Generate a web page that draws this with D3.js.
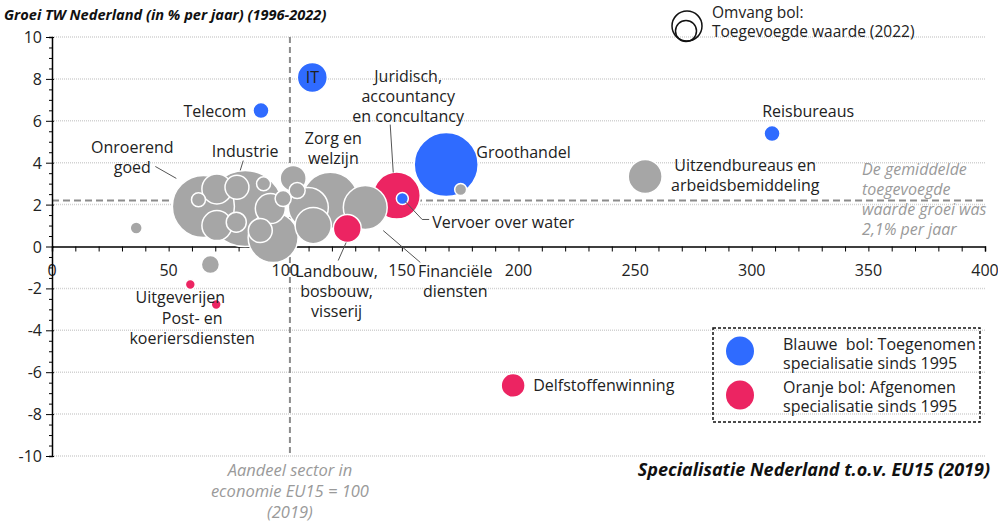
<!DOCTYPE html>
<html>
<head>
<meta charset="utf-8">
<script src="https://cdn.jsdelivr.net/npm/d3@7"></script>
<style>
  body { margin: 0; background: #fff; }
  text { font-family: "Open Sans", sans-serif; }
</style>
</head>
<body>
<div id="graph1"></div>
<script>
// sectors, specialisatie NL t.o.v. EU15 (2019), groei TW (% per jaar), toegevoegde waarde (2022)
const sectors = ["Industrie", "Groothandel", "Onroerend goed", "Zorg en welzijn", "Bouw",
  "Juridisch, accountancy en concultancy", "Financiële diensten", "Openbaar bestuur", "Onderwijs",
  "Uitzendbureaus en arbeidsbemiddeling", "IT", "Detailhandel", "Energie", "Vervoer over land",
  "Landbouw, bosbouw, visserij", "Horeca", "Delfstoffenwinning", "Autohandel", "Opslag",
  "Cultuur en recreatie", "Waterbedrijven", "Telecom", "Reisbureaus", "Reclame", "Research",
  "Architecten", "Overige diensten", "Vervoer over water", "Verhuur", "Luchtvaart",
  "Uitgeverijen", "Post- en koeriersdiensten"];
const specialisatie = [82.8, 169, 64.9, 119.3, 94.8, 147.8, 134.3, 109.9, 112, 254.3, 111.6,
  70.7, 70.7, 93.6, 126.6, 103.4, 197.7, 79.3, 89.3, 79, 67.9, 89.6, 308.7, 99.1, 105.1,
  62.8, 90.7, 150.2, 175.2, 36.1, 59.3, 70.4];
const groei = [1.81, 3.91, 1.91, 2.2, 0.43, 2.43, 1.86, 1.86, 1.0, 3.34, 8.07,
  2.75, 1.0, 1.81, 0.86, 3.25, -6.63, 2.83, 0.76, 1.16, -0.86, 6.49, 5.39, 2.29, 2.67,
  2.23, 2.99, 2.29, 2.72, 0.88, -1.81, -2.77];
const toegevoegdeWaarde = [141, 100, 94, 77, 61, 54, 47, 39, 32, 28, 22,
  22, 22, 22, 19, 16.5, 14, 14, 14, 9.8, 8, 6.3, 6.3, 6.3, 6.3,
  4.8, 4.8, 3.5, 3.5, 3.5, 2.4, 2.4];
// "blauw" = toegenomen specialisatie, "oranje" = afgenomen, "grijs" = overig
const specialisatieTrend = ["grijs", "blauw", "grijs", "grijs", "grijs", "oranje", "grijs", "grijs", "grijs",
  "grijs", "blauw", "grijs", "grijs", "grijs", "oranje", "grijs", "oranje", "grijs", "grijs",
  "grijs", "grijs", "blauw", "blauw", "grijs", "grijs", "grijs", "grijs", "blauw", "grijs",
  "grijs", "oranje", "oranje"];

const xTickLabels = [0, 50, 100, 150, 200, 250, 300, 350, 400];
const yTickLabels = [10, 8, 6, 4, 2, 0, -2, -4, -6, -8, -10];
const gemiddeldeGroei = 2.2;
const eu15Niveau = 102;

let graph_1_width = 998, graph_1_height = 525;

let svg = d3.select("#graph1")
    .append("svg")
    .attr("width", graph_1_width)
    .attr("height", graph_1_height);

let x = d3.scaleLinear().domain([0, 400]).range([52, 985]);
let y = d3.scaleLinear().domain([-10, 10]).range([456, 37]);
let r = d3.scaleSqrt().domain([0, 100]).range([0, 32]);

let color = d3.scaleOrdinal()
    .domain(["blauw", "oranje", "grijs"])
    .range(["#2f6bff", "#ec2462", "#a6a6a6"]);

// gridlines
svg.append("g")
    .selectAll("line")
    .data(yTickLabels.filter(d => d !== 0))
    .enter()
    .append("line")
    .attr("x1", x(0)).attr("x2", x(400))
    .attr("y1", d => y(d)).attr("y2", d => y(d))
    .attr("stroke", "#d2d2d2")
    .attr("stroke-width", 1.5)
    .attr("stroke-dasharray", "1,1");

// reference lines
svg.append("line")
    .attr("x1", x(eu15Niveau)).attr("x2", x(eu15Niveau))
    .attr("y1", y(10)).attr("y2", y(-10))
    .attr("stroke", "#8c8c8c")
    .attr("stroke-width", 2)
    .attr("stroke-dasharray", "6,4");

svg.append("line")
    .attr("x1", x(0)).attr("x2", x(400))
    .attr("y1", y(gemiddeldeGroei)).attr("y2", y(gemiddeldeGroei))
    .attr("stroke", "#8c8c8c")
    .attr("stroke-width", 2)
    .attr("stroke-dasharray", "7,4");

// axes
let xAxis = svg.append("g")
    .attr("transform", `translate(0,${y(0)})`)
    .call(d3.axisBottom(x).tickValues(d3.range(0, 401, 10)).tickSize(5).tickFormat(""));
xAxis.select(".domain").attr("stroke-width", 1.5);

svg.append("g")
    .selectAll("text")
    .data(xTickLabels)
    .enter()
    .append("text")
    .attr("x", d => x(d))
    .attr("y", y(0) + 29)
    .style("text-anchor", "middle")
    .style("font-size", "16px")
    .attr("fill", "#222")
    .text(d => d);

let yAxis = svg.append("g")
    .attr("transform", `translate(${x(0)},0)`)
    .call(d3.axisLeft(y).tickValues(d3.range(-10, 10.01, 0.5)).tickSize(3).tickFormat(""));
yAxis.select(".domain").attr("stroke-width", 1.5);
yAxis.selectAll(".tick line").filter(d => d % 2 === 0).attr("x2", -6).attr("x1", 2);

svg.append("g")
    .selectAll("text")
    .data(yTickLabels)
    .enter()
    .append("text")
    .attr("x", x(0) - 10)
    .attr("y", d => y(d) + 6)
    .style("text-anchor", "end")
    .style("font-size", "16px")
    .attr("fill", "#222")
    .text(d => d);

// bubbles
let data = sectors.map((s, i) => ({
    sector: s,
    spec: specialisatie[i],
    groei: groei[i],
    tw: toegevoegdeWaarde[i],
    trend: specialisatieTrend[i]
})).sort((a, b) => b.tw - a.tw);

svg.append("g")
    .selectAll("circle")
    .data(data)
    .enter()
    .append("circle")
    .attr("cx", d => x(d.spec))
    .attr("cy", d => y(d.groei))
    .attr("r", d => r(d.tw))
    .attr("fill", d => color(d.trend))
    .attr("stroke", "#fff")
    .attr("stroke-width", 1.5);

// labels
const labels = [
    { lines: ["Telecom"], x: 83.3, y: 6.49, anchor: "end" },
    { lines: ["IT"], x: 111.6, y: 8.07, anchor: "middle" },
    { lines: ["Juridisch,", "accountancy", "en concultancy"], x: 152.7, y: 8.16, anchor: "middle" },
    { lines: ["Reisbureaus"], x: 324.2, y: 6.49, anchor: "middle" },
    { lines: ["Groothandel"], x: 181.9, y: 4.49, anchor: "start" },
    { lines: ["Uitzendbureaus en", "arbeidsbemiddeling"], x: 297.2, y: 3.87, anchor: "middle" },
    { lines: ["Onroerend", "goed"], x: 34.4, y: 4.77, anchor: "middle" },
    { lines: ["Industrie"], x: 82.8, y: 4.58, anchor: "middle" },
    { lines: ["Zorg en", "welzijn"], x: 120.6, y: 5.16, anchor: "middle" },
    { lines: ["Vervoer over water"], x: 163, y: 1.15, anchor: "start" },
    { lines: ["Financiële", "diensten"], x: 172.9, y: -1.15, anchor: "middle" },
    { lines: ["Landbouw,", "bosbouw,", "visserij"], x: 122, y: -1.15, anchor: "middle" },
    { lines: ["Uitgeverijen"], x: 55, y: -2.43, anchor: "middle" },
    { lines: ["Post- en", "koeriersdiensten"], x: 60.1, y: -3.39, anchor: "middle" },
    { lines: ["Delfstoffenwinning"], x: 206.3, y: -6.63, anchor: "start" }
];

const leaders = [
    [[145.0, 5.82], [146.3, 3.53]],
    [[44.3, 3.82], [53.3, 3.25]],
    [[82, 4.1], [80.7, 3.63]],
    [[151.4, 2.15], [158.7, 1.29], [161.7, 1.29]],
    [[142, 0.76], [157.9, -0.76]],
    [[126.1, 0.19], [122.7, -0.67]]
];

let line = d3.line().x(d => x(d[0])).y(d => y(d[1]));

svg.append("g")
    .selectAll("path")
    .data(leaders)
    .enter()
    .append("path")
    .attr("d", line)
    .attr("fill", "none")
    .attr("stroke", "#555")
    .attr("stroke-width", 1);

let lab = svg.append("g")
    .selectAll("text")
    .data(labels)
    .enter()
    .append("text")
    .style("text-anchor", d => d.anchor)
    .style("font-size", "16px")
    .attr("fill", "#222");

lab.selectAll("tspan")
    .data(d => d.lines.map((t, i) => ({ t, i, d })))
    .enter()
    .append("tspan")
    .attr("x", e => x(e.d.x))
    .attr("y", e => y(e.d.y) + 6 + e.i * 20)
    .text(e => e.t);

// note on average growth
svg.append("text")
    .style("font-size", "16px")
    .style("font-style", "italic")
    .attr("fill", "#9a9a9a")
    .selectAll("tspan")
    .data(["De gemiddelde", "toegevoegde", "waarde groei was", "2,1% per jaar"])
    .enter()
    .append("tspan")
    .attr("x", x(347.3))
    .attr("y", (d, i) => y(3.68) + 6 + i * 19.7)
    .text(d => d);

// titles
svg.append("text")
    .attr("x", 4)
    .attr("y", 20)
    .style("font-size", "14.6px")
    .style("font-weight", "bold")
    .style("font-style", "italic")
    .attr("fill", "#111")
    .text("Groei TW Nederland (in % per jaar) (1996-2022)");

svg.append("text")
    .attr("x", 990)
    .attr("y", 476)
    .style("text-anchor", "end")
    .style("font-size", "18px")
    .style("font-weight", "bold")
    .style("font-style", "italic")
    .attr("fill", "#111")
    .text("Specialisatie Nederland t.o.v. EU15 (2019)");

svg.append("text")
    .style("font-size", "16.5px")
    .style("font-style", "italic")
    .style("text-anchor", "middle")
    .attr("fill", "#9a9a9a")
    .selectAll("tspan")
    .data(["Aandeel sector in", "economie EU15 = 100", "(2019)"])
    .enter()
    .append("tspan")
    .attr("x", x(eu15Niveau))
    .attr("y", (d, i) => 476 + i * 21)
    .text(d => d);

// size legend
let sizeLegend = svg.append("g");
sizeLegend.append("circle").attr("cx", 687).attr("cy", 26).attr("r", 15)
    .attr("fill", "none").attr("stroke", "#111").attr("stroke-width", 1.5);
sizeLegend.append("circle").attr("cx", 686).attr("cy", 31).attr("r", 10.5)
    .attr("fill", "none").attr("stroke", "#111").attr("stroke-width", 1.5);
sizeLegend.append("text")
    .style("font-size", "15.5px")
    .attr("fill", "#222")
    .selectAll("tspan")
    .data(["Omvang bol:", "Toegevoegde waarde (2022)"])
    .enter()
    .append("tspan")
    .attr("x", 712)
    .attr("y", (d, i) => 18 + i * 19)
    .text(d => d);

// colour legend
let colLegend = svg.append("g");
colLegend.append("rect")
    .attr("x", 713).attr("y", 328).attr("width", 267).attr("height", 94)
    .attr("fill", "none").attr("stroke", "#111").attr("stroke-width", 1.5)
    .attr("stroke-dasharray", "3,2");

const legendItems = [
    { trend: "blauw", lines: ["Blauwe  bol: Toegenomen", "specialisatie sinds 1995"] },
    { trend: "oranje", lines: ["Oranje bol: Afgenomen", "specialisatie sinds 1995"] }
];

legendItems.forEach((item, k) => {
    colLegend.append("ellipse")
        .attr("cx", 740).attr("cy", 351 + k * 44)
        .attr("rx", 14).attr("ry", 14.5)
        .attr("fill", color(item.trend));
    colLegend.append("text")
        .style("font-size", "16px")
        .style("white-space", "pre")
        .attr("fill", "#222")
        .selectAll("tspan")
        .data(item.lines)
        .enter()
        .append("tspan")
        .attr("x", 783)
        .attr("y", (d, i) => 350 + k * 43 + i * 19)
        .text(d => d);
});
</script>
</body>
</html>
